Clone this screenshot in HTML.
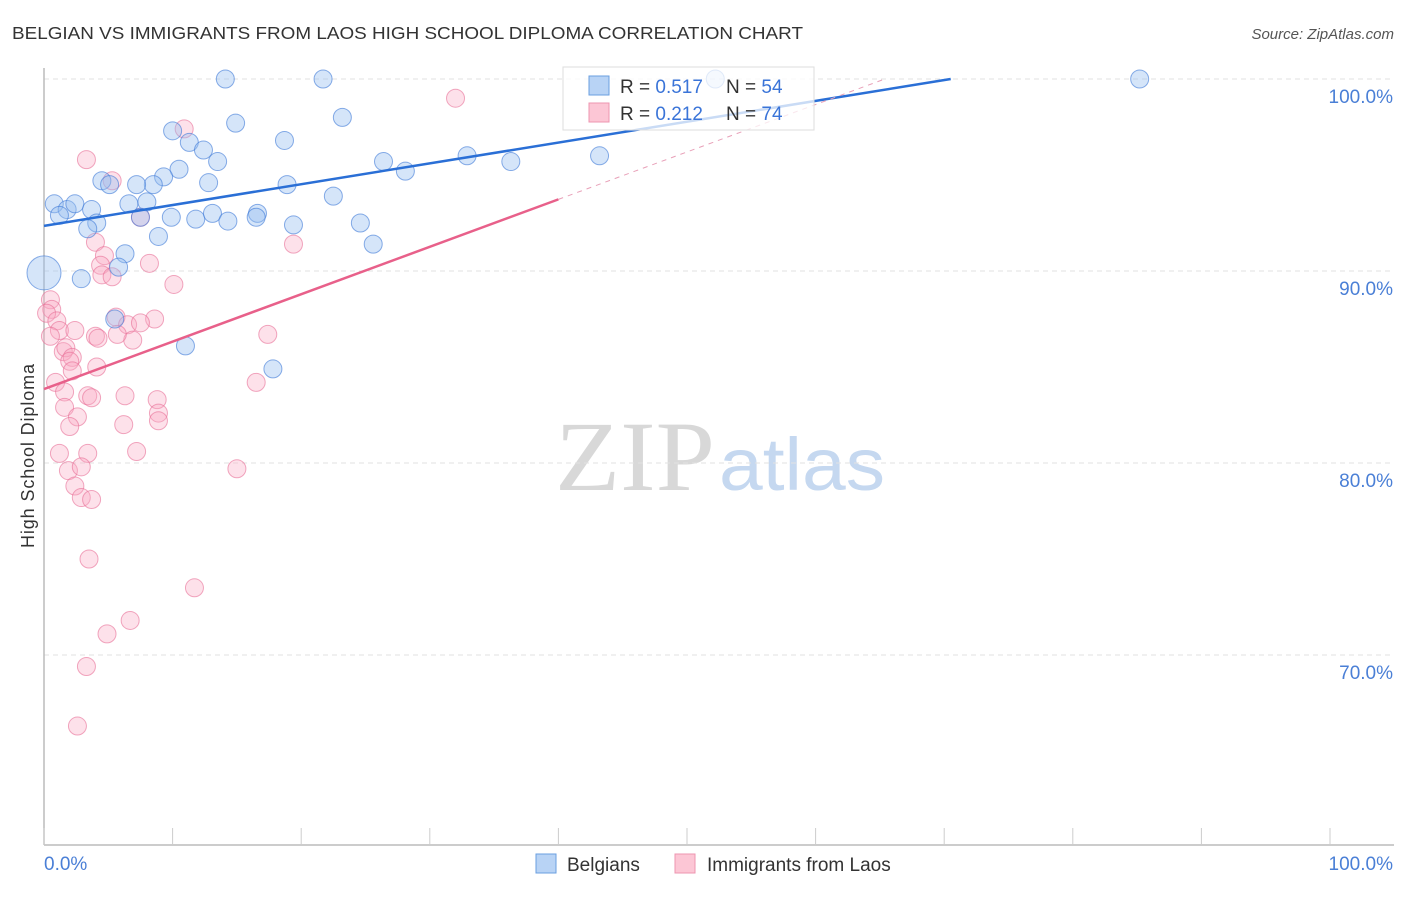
<!DOCTYPE html>
<html><head><meta charset="utf-8">
<style>
body{margin:0;background:#fff;font-family:"Liberation Sans",sans-serif;}
</style></head>
<body>
<svg id="chart" width="1406" height="892" font-family="Liberation Sans, sans-serif">
<text x="12" y="39" font-size="17.5" fill="#333" textLength="791" lengthAdjust="spacingAndGlyphs">BELGIAN VS IMMIGRANTS FROM LAOS HIGH SCHOOL DIPLOMA CORRELATION CHART</text>
<text x="1394" y="39" font-size="15" fill="#555" text-anchor="end" font-style="italic">Source: ZipAtlas.com</text>
<text x="34" y="456" font-size="18" fill="#333" text-anchor="middle" transform="rotate(-90 34 456)" textLength="184">High School Diploma</text>
<g>
<text x="555" y="490" font-size="100" fill="#d8d8d8" style="font-family:'Liberation Serif',serif" textLength="160" lengthAdjust="spacingAndGlyphs">ZIP</text>
<text x="719" y="490" font-size="74" fill="#c5d8f0" textLength="166" lengthAdjust="spacingAndGlyphs">atlas</text>
</g>
<g id="grid"></g>
<g id="axes"></g>
<g id="pts"></g>
<g id="trend"></g>
<g>
<rect x="563" y="67" width="251" height="63" fill="rgba(255,255,255,0.75)" stroke="#ddd"/>
<rect x="589" y="76" width="20" height="19" fill="#b8d3f5" stroke="#6a9fe0"/>
<rect x="589" y="103" width="20" height="19" fill="#fcc6d5" stroke="#ee95b0"/>
<text x="620" y="93" font-size="19" fill="#333">R = <tspan fill="#3a74d8">0.517</tspan></text>
<text x="726" y="93" font-size="19" fill="#333">N = <tspan fill="#3a74d8">54</tspan></text>
<text x="620" y="120" font-size="19" fill="#333">R = <tspan fill="#3a74d8">0.212</tspan></text>
<text x="726" y="120" font-size="19" fill="#333">N = <tspan fill="#3a74d8">74</tspan></text>
</g>
<g>
<rect x="536" y="854" width="20" height="19" fill="#b8d3f5" stroke="#6a9fe0"/>
<text x="567" y="871" font-size="19" fill="#333">Belgians</text>
<rect x="675" y="854" width="20" height="19" fill="#fcc6d5" stroke="#ee95b0"/>
<text x="707" y="871" font-size="19" fill="#333">Immigrants from Laos</text>
</g>
</svg>
<script>
const yTicks=[100,90,80,70];
const yTickLabels=["100.0%","90.0%","80.0%","70.0%"];
const xTickLabels=["0.0%","100.0%"];
const belgX=[14.1,21.7,52.2,85.2,14.9,23.2,10.0,11.3,18.7,12.4,13.5,10.5,9.3,8.5,7.2,4.5,5.1,12.8,18.9,26.4,28.1,32.9,36.3,43.2,22.5,0.8,1.8,2.4,3.7,1.2,6.6,8.0,7.5,9.9,11.8,13.1,14.3,16.6,16.5,19.4,24.6,4.1,3.4,8.9,25.6,6.3,5.8,0.0,2.9,5.5,11.0,17.8];
const belgY=[100,100,100,100,97.7,98.0,97.3,96.7,96.8,96.3,95.7,95.3,94.9,94.5,94.5,94.7,94.5,94.6,94.5,95.7,95.2,96.0,95.7,96.0,93.9,93.5,93.2,93.5,93.2,92.9,93.5,93.6,92.8,92.8,92.7,93.0,92.6,93.0,92.8,92.4,92.5,92.5,92.2,91.8,91.4,90.9,90.2,89.9,89.6,87.5,86.1,84.9];
const belgR=[9,9,9,9,9,9,9,9,9,9,9,9,9,9,9,9,9,9,9,9,9,9,9,9,9,9,9,9,9,9,9,9,9,9,9,9,9,9,9,9,9,9,9,9,9,9,9,17,9,9,9,9];
const laosX=[32.0,10.9,3.3,5.3,7.5,4.0,19.4,4.7,4.4,4.5,5.3,8.2,10.1,0.5,0.6,0.2,1.0,1.2,1.5,1.7,2.2,0.5,2.4,4.0,4.2,5.6,6.5,6.9,8.6,7.5,5.7,17.4,2.0,4.1,0.9,1.6,2.2,16.5,3.4,3.7,6.3,8.8,8.9,6.2,8.9,1.6,2.6,2.0,1.2,3.4,7.2,15.0,1.9,2.9,2.4,2.9,3.7,3.5,11.7,6.7,4.9,3.3,2.6];
const laosY=[99.0,97.4,95.8,94.7,92.8,91.5,91.4,90.8,90.3,89.8,89.7,90.4,89.3,88.5,88.0,87.8,87.4,86.9,85.8,86.0,85.5,86.6,86.9,86.6,86.5,87.6,87.2,86.4,87.5,87.3,86.7,86.7,85.3,85.0,84.2,83.7,84.8,84.2,83.5,83.4,83.5,83.3,82.6,82.0,82.2,82.9,82.4,81.9,80.5,80.5,80.6,79.7,79.6,79.8,78.8,78.2,78.1,75.0,73.5,71.8,71.1,69.4,66.3];
const blueLine=[92.35,103.2];
const pinkLine=[83.85,108.55];
const svg=document.getElementById('chart');
const NS='http://www.w3.org/2000/svg';
const X0=44,X1=1330,YT=79,PX=19.2;
function sx(v){return X0+(X1-X0)*v/100;}
function sy(v){return YT+(100-v)*PX;}
function mk(tag,attrs,parent){const e=document.createElementNS(NS,tag);for(const k in attrs)e.setAttribute(k,attrs[k]);parent.appendChild(e);return e;}
const grid=document.getElementById('grid'),axes=document.getElementById('axes');
yTicks.forEach((t,i)=>{
 const l=mk('line',{x1:X0,x2:1394,y1:sy(t),y2:sy(t),stroke:'#e2e2e2','stroke-dasharray':'5,4'},grid);
 
 
 const tx=mk('text',{x:1393,y:sy(t)+24,'font-size':19,fill:'#4a7fd6','text-anchor':'end'},axes);
 tx.textContent=yTickLabels[i];
 
 
});
const ya=mk('line',{x1:X0,x2:X0,y1:68,y2:845,stroke:'#bbb','stroke-width':1.5},axes);


const xa=mk('line',{x1:X0,x2:1394,y1:845,y2:845,stroke:'#bbb','stroke-width':1.5},axes);


for(let i=0;i<=10;i++){
 const t=mk('line',{x1:sx(i*10),x2:sx(i*10),y1:828,y2:845,stroke:'#ccc'},axes);
 
 
}
[[0,'start',44],[100,'end',1393]].forEach((d,i)=>{
 const tx=mk('text',{x:d[2],y:870,'font-size':19,fill:'#4a7fd6','text-anchor':d[1]},axes);
 tx.textContent=xTickLabels[i];
 
 
});
const pts=document.getElementById('pts');
laosX.forEach((x,i)=>{
 const c=mk('circle',{cx:sx(x),cy:sy(laosY[i]),r:9,fill:'rgba(248,170,195,0.35)',stroke:'rgba(232,110,150,0.6)','stroke-width':1},pts);
 
 
});
belgX.forEach((x,i)=>{
 const c=mk('circle',{cx:sx(x),cy:sy(belgY[i]),r:belgR[i],fill:'rgba(150,190,240,0.4)',stroke:'rgba(60,120,215,0.6)','stroke-width':1},pts);
 
 
});
const tr=document.getElementById('trend');
const bxEnd=(100-blueLine[0])/(blueLine[1]-blueLine[0])*100;
const bl=mk('line',{x1:sx(0),y1:sy(blueLine[0]),x2:sx(bxEnd),y2:sy(100),stroke:'#2a6fd6','stroke-width':2.5},tr);


const pyAt=x=>pinkLine[0]+(pinkLine[1]-pinkLine[0])*x/100;
const pxEnd=(100-pinkLine[0])/(pinkLine[1]-pinkLine[0])*100;
const pl=mk('line',{x1:sx(0),y1:sy(pinkLine[0]),x2:sx(40),y2:sy(pyAt(40)),stroke:'#e8608a','stroke-width':2.5},tr);


const pd=mk('line',{x1:sx(40),y1:sy(pyAt(40)),x2:sx(pxEnd),y2:sy(100),stroke:'#e8a0b8','stroke-width':1,'stroke-dasharray':'5,5'},tr);


</script>
</body></html>
